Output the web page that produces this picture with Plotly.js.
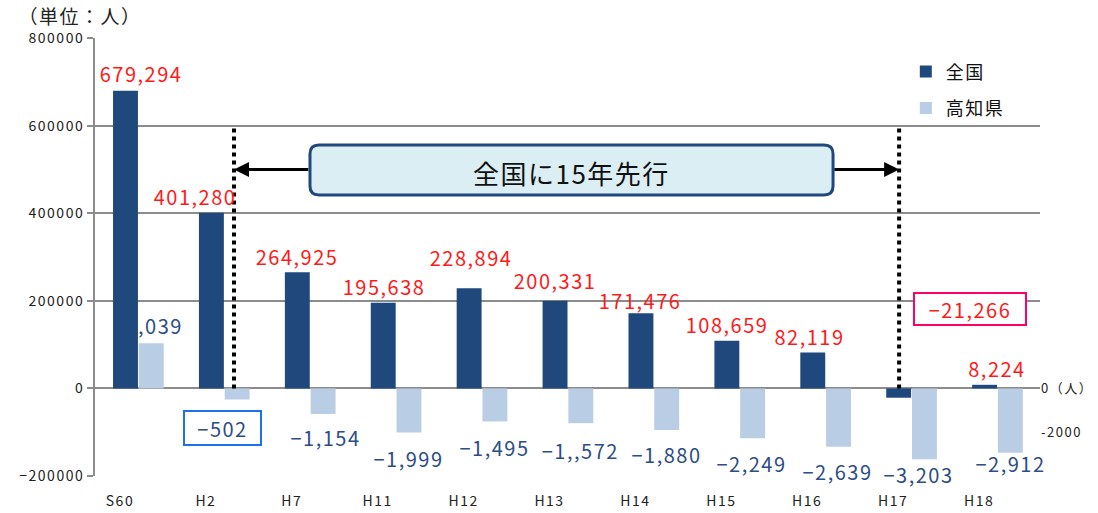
<!DOCTYPE html>
<html>
<head>
<meta charset="utf-8">
<script src="https://cdn.plot.ly/plotly-3.0.1.min.js"></script>
<style>
  html, body { margin: 0; padding: 0; background: #fff; }
  #chart { width: 1098px; height: 513px; }
  #chart svg text { letter-spacing: 1.5px; }
</style>
</head>
<body>
<div id="chart"></div>
<script>
// ---- data ----
const categories = ['S60', 'H2', 'H7', 'H11', 'H12', 'H13', 'H14', 'H15', 'H16', 'H17', 'H18'];
const nationalChange = [679294, 401280, 264925, 195638, 228894, 200331, 171476, 108659, 82119, -21266, 8224];
const kochiChange = [2039, -502, -1154, -1999, -1495, -1572, -1880, -2249, -2639, -3203, -2912];
const nationalLabels = ['679,294', '401,280', '264,925', '195,638', '228,894', '200,331', '171,476', '108,659', '82,119', '−21,266', '8,224'];
const kochiLabels = [',039', '−502', '−1,154', '−1,999', '−1,495', '−1,,572', '−1,880', '−2,249', '−2,639', '−3,203', '−2,912'];
const seriesNames = ['全国', '高知県'];
const leftTicks = [-200000, 0, 200000, 400000, 600000, 800000];
const rightTicks = [0, -2000];
const rightTickText = ['0（人）', '-2000'];
const unitText = '（単位：人）';
const leadText = '全国に15年先行';

// ---- label nudges (pixels) ----
const redDx = [15, -16, 0, 1, 2, 0, -1, 0, -3, 71, 12];
const redUp = [1, 0, 0, 0, 15, 4, -3, 0, 0, 63, 0];
const blueDx = [9, -15, 2, -1, 0, 0, 0, -1, -1, -6, 0];
const blueUp = [43, -3, 1, -1, -1, -2, 0, 0, 0, 10, 14];

const navy = '#1f497d';
const light = '#b9cde5';
const grid = '#8c8c8c';
const red = '#ff1a1a';
const blue = '#2c4d85';
const FONT = '"Noto Sans CJK JP", "Noto Sans", sans-serif';

const barW = 0.29;

const traces = [
  {
    type: 'bar', name: seriesNames[0], x: categories, y: nationalChange,
    marker: { color: navy }, width: barW, offset: -barW, yaxis: 'y',
    legendgroup: 'a', hoverinfo: 'skip'
  },
  {
    type: 'bar', name: seriesNames[1], x: categories, y: kochiChange,
    marker: { color: light }, width: barW, offset: 0.01, yaxis: 'y2',
    legendgroup: 'b', hoverinfo: 'skip'
  }
];

const annotations = [];
nationalChange.forEach((v, i) => {
  const boxed = i === 9;
  annotations.push({
    xref: 'x', yref: 'y', x: i - barW / 2, y: Math.max(v, 0),
    text: nationalLabels[i], showarrow: false,
    xanchor: 'center', yanchor: 'middle',
    xshift: redDx[i], yshift: 16 + redUp[i],
    font: { family: FONT, size: 20, color: red },
    bordercolor: boxed ? '#ff0066' : undefined,
    borderwidth: boxed ? 2 : 0, borderpad: 0,
    bgcolor: boxed ? '#ffffff' : undefined,
    width: boxed ? 110 : undefined, height: boxed ? 30 : undefined
  });
});
kochiChange.forEach((v, i) => {
  const boxed = i === 1;
  annotations.push({
    xref: 'x', yref: 'y2', x: i + 0.01 + barW / 2, y: v,
    text: kochiLabels[i], showarrow: false,
    xanchor: 'center', yanchor: 'middle',
    xshift: blueDx[i], yshift: -25 + blueUp[i],
    font: { family: FONT, size: 20, color: blue },
    bordercolor: boxed ? '#1a73e8' : undefined,
    borderwidth: boxed ? 2 : 0, borderpad: 0,
    width: boxed ? 75 : undefined, height: boxed ? 32 : undefined
  });
});

// unit label
annotations.push({
  xref: 'paper', yref: 'paper', x: -0.078, y: 1.052, xanchor: 'left', yanchor: 'middle',
  text: unitText, showarrow: false, font: { family: FONT, size: 19, color: '#222' }
});
// lead box text
annotations.push({
  xref: 'paper', yref: 'paper', x: 0.504, y: 0.692, xanchor: 'center', yanchor: 'middle',
  text: leadText, showarrow: false, font: { family: FONT, size: 26, color: '#111' }
});
// arrows
const lineL = 1.118, lineR = 8.86, boxL = 2.0, boxR = 8.09, arrowY = 500000;
annotations.push({
  xref: 'x', yref: 'y', axref: 'x', ayref: 'y', x: lineL, y: arrowY, ax: boxL, ay: arrowY,
  text: '', showarrow: true, arrowhead: 2, arrowsize: 1, arrowwidth: 3, arrowcolor: '#000', standoff: 0
});
annotations.push({
  xref: 'x', yref: 'y', axref: 'x', ayref: 'y', x: lineR, y: arrowY, ax: boxR, ay: arrowY,
  text: '', showarrow: true, arrowhead: 2, arrowsize: 1, arrowwidth: 3, arrowcolor: '#000', standoff: 0
});

// rounded box path (paper coords)
const bx0 = 0.2275, bx1 = 0.781, by0 = 0.6416, by1 = 0.7557, rx = 0.0095, ry = 0.0205;
const boxPath = `M${bx0 + rx},${by1} L${bx1 - rx},${by1} Q${bx1},${by1} ${bx1},${by1 - ry} ` +
  `L${bx1},${by0 + ry} Q${bx1},${by0} ${bx1 - rx},${by0} L${bx0 + rx},${by0} ` +
  `Q${bx0},${by0} ${bx0},${by0 + ry} L${bx0},${by1 - ry} Q${bx0},${by1} ${bx0 + rx},${by1} Z`;

const shapes = [
  { type: 'line', xref: 'x', yref: 'y', x0: lineL, x1: lineL, y0: 0, y1: 600000,
    line: { color: '#000', width: 4, dash: 'dot' } },
  { type: 'line', xref: 'x', yref: 'y', x0: lineR, x1: lineR, y0: 0, y1: 600000,
    line: { color: '#000', width: 4, dash: 'dot' } },
  { type: 'path', xref: 'paper', yref: 'paper', path: boxPath,
    fillcolor: '#dbeef3', line: { color: navy, width: 3 } }
];

const layout = {
  width: 1098, height: 513,
  margin: { l: 95, r: 58, t: 38, b: 37, pad: 0 },
  paper_bgcolor: '#fff', plot_bgcolor: '#fff',
  font: { family: FONT, size: 14, color: '#222' },
  barmode: 'overlay',
  showlegend: true,
  legend: {
    x: 0.858, y: 0.965, xanchor: 'left', yanchor: 'top',
    font: { family: FONT, size: 18, color: '#111' },
    bgcolor: 'rgba(0,0,0,0)', tracegroupgap: 10, traceorder: 'grouped'
  },
  xaxis: {
    type: 'category', showgrid: false, zeroline: false, showline: false, ticks: '',
    tickfont: { family: FONT, size: 14, color: '#222' }, ticklabelshift: -18,
    ticklabelstandoff: 15,
    range: [-0.5, 10.5], fixedrange: true
  },
  yaxis: {
    range: [-200000, 800000], tickvals: leftTicks, tickformat: 'd',
    showgrid: true, gridcolor: grid, gridwidth: 2,
    zeroline: true, zerolinecolor: grid, zerolinewidth: 2,
    showline: true, linecolor: grid, linewidth: 2,
    ticks: 'outside', ticklen: 6, tickcolor: grid, tickwidth: 2,
    tickfont: { family: FONT, size: 14, color: '#222' }, fixedrange: true
  },
  yaxis2: {
    overlaying: 'y', side: 'right', range: [-3960, 15840],
    tickvals: rightTicks, ticktext: rightTickText,
    showgrid: false, zeroline: false, showline: false, ticks: '',
    tickfont: { family: FONT, size: 13, color: '#222' }, fixedrange: true
  },
  annotations: annotations,
  shapes: shapes
};

Plotly.newPlot('chart', traces, layout, { displayModeBar: false, staticPlot: true });
</script>
</body>
</html>
